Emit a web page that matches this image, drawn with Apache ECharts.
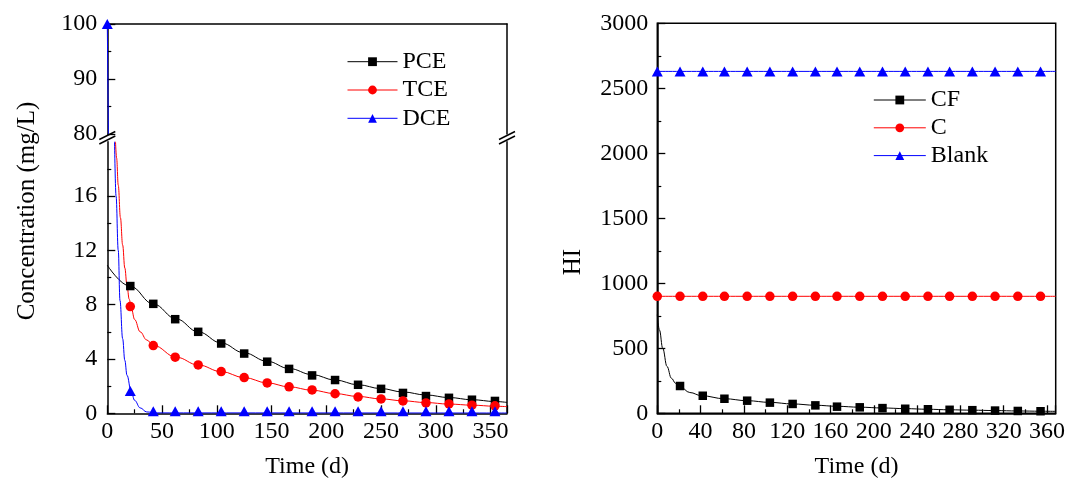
<!DOCTYPE html>
<html>
<head>
<meta charset="utf-8">
<script src="https://cdn.jsdelivr.net/npm/echarts@6/dist/echarts.min.js"></script>
<style>
html,body{margin:0;padding:0;background:#fff;}
#chart{width:1069px;height:485px;}
</style>
</head>
<body>
<div id="chart"></div>
<script>
// ---------------- DATA ----------------
// sampling times (days) of the markers
const timePts = [21, 42, 62, 83, 104, 125, 146, 166, 187, 208, 229, 250, 270, 291, 312, 333, 354];

// left chart: concentrations (mg/L)
const pceVals = [9.37, 8.06, 6.93, 6.0, 5.14, 4.4, 3.8, 3.27, 2.79, 2.45, 2.1, 1.8, 1.5, 1.27, 1.14, 1.0, 0.91];
const tceVals = [7.86, 4.99, 4.13, 3.56, 3.07, 2.63, 2.24, 1.95, 1.72, 1.44, 1.2, 1.06, 0.91, 0.76, 0.69, 0.6, 0.55];
const dceTimes = [0].concat(timePts);
const dceVals = [100, 1.64, 0.15, 0.15, 0.15, 0.15, 0.15, 0.15, 0.15, 0.15, 0.15, 0.15, 0.15, 0.15, 0.15, 0.15, 0.15, 0.15];

// left chart: fitted curves [t, value]
const pceFit = [[0,10.9],[21,9.35],[42,8.05],[63,6.95],[83,6.0],[104,5.18],[125,4.45],[146,3.83],[166,3.3],[187,2.85],[208,2.45],[229,2.1],[250,1.82],[270,1.57],[291,1.35],[312,1.16],[333,1.0],[354,0.87],[365,0.8]];
const tceFit = [[7.5,20],[8.5,18.8],[10,16.8],[12,14.4],[14,12.4],[16,10.7],[18,9.4],[20,8.4],[22,7.7],[25,6.9],[30,6.0],[36,5.4],[42,5.0],[63,4.13],[83,3.56],[104,3.07],[125,2.63],[146,2.24],[166,1.95],[187,1.7],[208,1.45],[229,1.24],[250,1.06],[270,0.92],[291,0.79],[312,0.68],[333,0.6],[354,0.52],[365,0.49]];
const dceFit = [[0,100],[1,80],[3,50],[5,30],[6.6,20],[8,16],[10,12],[11.6,8.3],[14,5.5],[16,3.9],[18,2.8],[21.7,1.64],[25,0.95],[30,0.4],[36,0.1],[45,0.03],[365,0.02]];

// right chart: HI
const timeR = [0].concat(timePts);
const blankVals = [2630, 2630, 2630, 2630, 2630, 2630, 2630, 2630, 2630, 2630, 2630, 2630, 2630, 2630, 2630, 2630, 2630, 2630];
const cVals = [900, 900, 900, 900, 900, 900, 900, 900, 900, 900, 900, 900, 900, 900, 900, 900, 900, 900];
const cfVals = [210, 135, 112, 97, 82, 72, 61, 51, 46, 40, 35, 31, 27, 24, 21, 18, 16];
const cfFit = [[0,760],[2,640],[5,500],[9,360],[13,270],[17,230],[21,205],[30,160],[41,135],[62,112],[83,97],[104,84],[125,72],[146,62],[166,54],[187,47],[208,41],[229,36],[250,31],[270,27],[291,24],[312,21],[333,18],[354,16],[368,15]];

// tick settings
const leftXTicks = {min: 0, max: 365, interval: 50};
const rightXTicks = {min: 0, max: 368, interval: 40};
const topYTicks = {min: 80, max: 100, interval: 10};
const botYTicks = {min: 0, max: 20, interval: 4};
const botYTickVals = [0, 4, 8, 12, 16];
const hiYTicks = {min: 0, max: 3000, interval: 500};

// ---------------- STYLE ----------------
const FONT = "'Liberation Serif', 'Times New Roman', serif";
const BLACK = '#000000', RED = '#ff0000', BLUE = '#0000ff';
const pair = (ts, vs) => ts.map((t, i) => [t, vs[i]]);
const within = (arr, t) => arr.filter(p => p[1] >= t.min && p[1] <= t.max);

const lblStyle = {color: BLACK, fontFamily: FONT, fontSize: 24, formatter: v => String(v)};
const axLine = {show: true, lineStyle: {color: BLACK, width: 1.5}};
const tickStyle = {show: true, inside: true, length: 8, lineStyle: {color: BLACK, width: 1.3}};

function valueX(gridIndex, ticks, extra) {
  return Object.assign({
    type: 'value', gridIndex: gridIndex, min: ticks.min, max: ticks.max, interval: ticks.interval,
    axisLine: axLine,
    axisTick: tickStyle,
    minorTick: {show: true, splitNumber: 2, length: 4, lineStyle: {color: BLACK, width: 1.2}},
    axisLabel: Object.assign({margin: 6, showMaxLabel: false}, lblStyle),
    splitLine: {show: false},
    nameLocation: 'middle', nameGap: 41,
    nameTextStyle: {color: BLACK, fontFamily: FONT, fontSize: 24}
  }, extra || {});
}
function valueY(gridIndex, ticks, extra) {
  return Object.assign({
    type: 'value', gridIndex: gridIndex, min: ticks.min, max: ticks.max, interval: ticks.interval,
    axisLine: axLine,
    axisTick: tickStyle,
    minorTick: {show: true, splitNumber: 2, length: 4, lineStyle: {color: BLACK, width: 1.2}},
    axisLabel: Object.assign({margin: 10}, lblStyle),
    splitLine: {show: false}
  }, extra || {});
}
function borderAxis(gridIndex, position, ticks) {
  return {
    type: 'value', gridIndex: gridIndex, position: position, min: ticks.min, max: ticks.max,
    axisLine: axLine, axisTick: {show: false}, axisLabel: {show: false}, splitLine: {show: false}
  };
}

function fitSeries(name, data, color, xi, yi) {
  return {
    name: name, type: 'line', xAxisIndex: xi, yAxisIndex: yi, data: data,
    showSymbol: false, smooth: 0.4, smoothMonotone: 'x', clip: true,
    lineStyle: {color: color, width: 1}, itemStyle: {color: color},
    silent: true, z: 2
  };
}
function markSeries(name, data, color, symbol, size, xi, yi) {
  return {
    name: name, type: 'line', xAxisIndex: xi, yAxisIndex: yi, data: data,
    symbol: symbol, symbolSize: size, showSymbol: true, showAllSymbol: true, clip: true,
    lineStyle: {color: color, width: 0}, itemStyle: {color: color},
    z: 3
  };
}

const series = [];
// left chart, both panels (top: xAxis0/yAxis0, bottom: xAxis1/yAxis2)
[[0, 0, topYTicks], [1, 2, botYTicks]].forEach(([xi, yi, yt]) => {
  series.push(fitSeries('PCE fit', within(pceFit, yt), BLACK, xi, yi));
  series.push(fitSeries('TCE fit', within(tceFit, yt), RED, xi, yi));
  series.push(fitSeries('DCE fit', within(dceFit, yt), BLUE, xi, yi));
  series.push(markSeries('PCE', within(pair(timePts, pceVals), yt), BLACK, 'rect', 8.5, xi, yi));
  series.push(markSeries('TCE', within(pair(timePts, tceVals), yt), RED, 'circle', 9.5, xi, yi));
  series.push(markSeries('DCE', within(pair(dceTimes, dceVals), yt), BLUE, 'triangle', [11, 10], xi, yi));
});
// right chart (xAxis2 / yAxis4)
series.push(fitSeries('CF fit', cfFit, BLACK, 2, 4));
series.push(fitSeries('C line', pair(timeR.concat([368]), cVals.concat([900])), RED, 2, 4));
series.push(fitSeries('Blank line', pair(timeR.concat([368]), blankVals.concat([2630])), BLUE, 2, 4));
series.push(markSeries('CF', pair(timePts, cfVals), BLACK, 'rect', 8.5, 2, 4));
series.push(markSeries('C', pair(timeR, cVals), RED, 'circle', 9.5, 2, 4));
series.push(markSeries('Blank', pair(timeR, blankVals), BLUE, 'triangle', [11, 10], 2, 4));

// break marks on the left chart (decoration only)
function breakMarks(x) {
  return [0, 4.5].map(dy => ({
    type: 'line', silent: true, z: 100,
    shape: {x1: x - 8, y1: 139.5 + dy, x2: x + 8, y2: 131.5 + dy},
    style: {stroke: BLACK, lineWidth: 1.4}
  }));
}

const legendCommon = {
  orient: 'vertical', itemHeight: 11,
  textStyle: {color: BLACK, fontFamily: FONT, fontSize: 24, lineHeight: 24},
  lineStyle: {width: 1, opacity: 1},
  selectedMode: false
};

const option = {
  animation: false,
  backgroundColor: '#ffffff',
  grid: [
    {left: 107.3, top: 24, width: 399.7, height: 110},
    {left: 107.3, top: 141.7, width: 399.7, height: 271.6},
    {left: 657.3, top: 23.3, width: 398.4, height: 390, show: true, borderColor: BLACK, borderWidth: 1.5, backgroundColor: 'transparent'}
  ],
  xAxis: [
    borderAxis(0, 'top', leftXTicks),
    valueX(1, leftXTicks, {name: 'Time (d)'}),
    valueX(2, rightXTicks, {name: 'Time (d)'})
  ],
  yAxis: [
    valueY(0, topYTicks),
    borderAxis(0, 'right', topYTicks),
    valueY(1, botYTicks, {
      axisTick: Object.assign({}, tickStyle, {customValues: botYTickVals}),
      axisLabel: Object.assign({}, lblStyle, {margin: 10, customValues: botYTickVals})
    }),
    borderAxis(1, 'right', botYTicks),
    valueY(2, hiYTicks, {axisLabel: Object.assign({}, lblStyle, {margin: 9})})
  ],
  legend: [
    Object.assign({}, legendCommon, {data: ['PCE', 'TCE', 'DCE'], left: 342, top: 44.7, itemGap: 4.3, itemWidth: 50}),
    Object.assign({}, legendCommon, {data: ['CF', 'C', 'Blank'], left: 868.3, top: 83, itemGap: 3.8, itemWidth: 52})
  ],
  graphic: [
    {type: 'text', x: 27, y: 211, rotation: Math.PI / 2, silent: true,
     style: {text: 'Concentration (mg/L)', fill: BLACK, font: '25px ' + FONT, align: 'center', verticalAlign: 'middle'}},
    {type: 'text', x: 573, y: 262, rotation: Math.PI / 2, silent: true,
     style: {text: 'HI', fill: BLACK, font: '25px ' + FONT, align: 'center', verticalAlign: 'middle'}}
  ].concat(breakMarks(107.3), breakMarks(507)),
  series: series
};

const chart = echarts.init(document.getElementById('chart'), null, {renderer: 'canvas'});
chart.setOption(option);
</script>
</body>
</html>
